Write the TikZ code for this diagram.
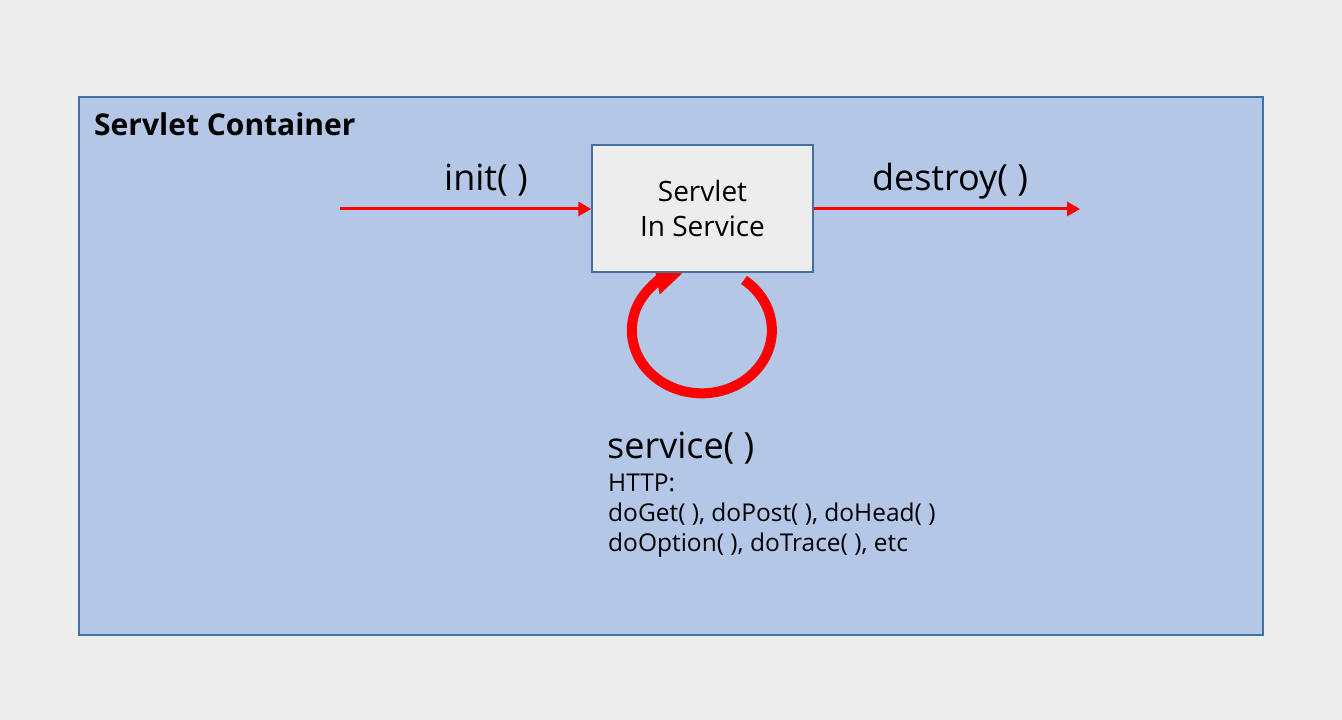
\documentclass[tikz,border=0pt]{standalone}
\usepackage{fontspec}
\setmainfont{Open Sans}
\usetikzlibrary{arrows.meta}
\definecolor{bgc}{HTML}{EDEDED}
\definecolor{contfill}{HTML}{B4C7E7}
\definecolor{edgeblue}{HTML}{41719C}
\definecolor{boxfill}{HTML}{EDEDED}
\definecolor{arrred}{HTML}{FF0000}
\tikzset{
  container/.style={draw=edgeblue, line width=1.5pt, fill=contfill},
  servbox/.style={draw=edgeblue, line width=1.5pt, fill=boxfill, minimum width=221pt, minimum height=127pt, inner sep=0pt, align=center, font=\fontsize{28}{35}\selectfont},
  calltext/.style={inner sep=0pt, font=\fontsize{36}{42}\selectfont},
  flow/.style={draw=arrred, line width=3pt, -{Triangle[length=13pt,width=14pt]}},
  loop/.style={draw=arrred, line width=10pt, -{Triangle[length=32pt,width=38pt]}}
}
\begin{document}
\begin{tikzpicture}[x=1pt,y=1pt]
\fill[bgc] (0,0) rectangle (1342,720);
\useasboundingbox (0,0) rectangle (1342,720);
\draw[container] (79,623) rectangle (1263,85);
\node[anchor=base west, inner sep=0pt, font=\fontsize{30}{36}\selectfont\bfseries] (title) at (94,584) {Servlet Container};
% loop
\coordinate (loopstart) at (744,440);
\draw[loop] (loopstart) arc[start angle=53, end angle=-258, x radius=70, y radius=63];
% box
\node[servbox] (box) at (702.5,511.5) {Servlet\\In Service};
\coordinate (initstart) at (340,511);
\coordinate (destend) at (1080,511);
\draw[flow] (initstart) -- (box.west |- initstart);
\draw[flow] (box.east |- destend) -- (destend);
\node[calltext, anchor=base] (init) at (486,529) {init( )};
\node[calltext, anchor=base] (destroy) at (950,529) {destroy( )};
\node[calltext, anchor=base west] (service) at (607,261) {service( )};
\node[anchor=base west, inner sep=0pt, align=left, font=\fontsize{24.5}{30}\selectfont] (methods) at (608,168) {HTTP:\\doGet( ), doPost( ), doHead( )\\doOption( ), doTrace( ), etc};
\end{tikzpicture}
\end{document}
